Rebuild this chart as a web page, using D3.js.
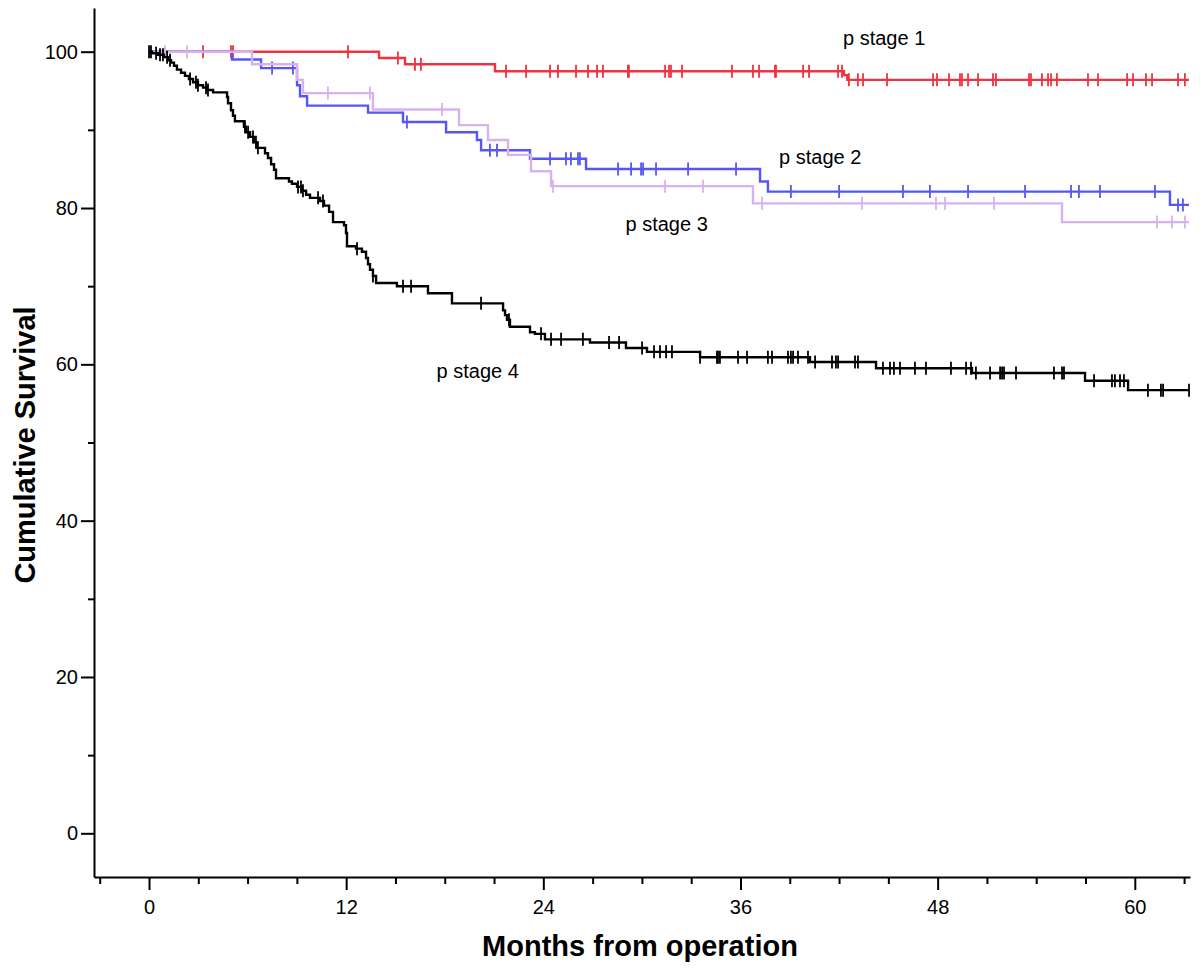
<!DOCTYPE html>
<html>
<head>
<meta charset="utf-8">
<script src="https://cdn.jsdelivr.net/npm/d3@7"></script>
<style>
  body { margin: 0; background: #fff; }
  text { font-family: "Liberation Sans", Arial, sans-serif; }
</style>
</head>
<body>
<div id="chart"></div>
<script>
// Kaplan-Meier curves, months from operation vs cumulative survival (%)
// each stage: drop times, survival after each drop, censored times

var s1Time = [0, 14.0, 15.58, 21.06, 42.3, 42.5];
var s1Surv = [100, 99.2, 98.4, 97.5, 97.0, 96.4];
var s1Cens = [3.29, 4.99, 5.11, 12.11, 15.15, 16.19, 16.55, 21.73, 22.95, 24.41, 24.89,
  25.99, 26.72, 27.27, 27.63, 29.15, 29.21, 31.41, 31.65, 31.77, 32.44, 35.48, 36.76,
  37.13, 38.10, 38.16, 39.81, 40.17, 41.94, 42.18, 42.6, 43.15, 43.46, 44.92, 47.72,
  47.96, 48.69, 49.36, 49.48, 49.85, 50.46, 51.37, 51.55, 53.56, 53.68, 54.35, 54.72,
  54.90, 55.26, 57.15, 57.76, 59.53, 59.89, 60.68, 61.05, 62.63, 63.05];

var s2Time = [0, 5.05, 6.82, 9.01, 9.19, 9.62, 13.33, 15.46, 18.08, 19.96, 20.21,
  23.19, 26.60, 37.19, 37.67, 62.14];
var s2Surv = [100, 99.0, 97.9, 95.7, 94.3, 93.1, 92.2, 91.0, 89.7, 88.7, 87.4,
  86.3, 85.0, 83.4, 82.1, 80.4];
var s2Cens = [7.49, 8.76, 15.70, 20.75, 21.18, 24.41, 25.38, 25.68, 26.11, 26.23,
  28.55, 29.34, 29.95, 30.07, 30.86, 32.81, 35.73, 39.07, 42.00, 45.89, 47.53, 49.85,
  53.32, 56.12, 56.60, 57.88, 61.23, 62.63, 62.93];

var s3Time = [0, 6.27, 9.01, 9.37, 13.63, 18.87, 20.63, 21.85, 23.25, 24.47, 36.76, 55.57];
var s3Surv = [100, 98.4, 96.4, 94.7, 92.6, 90.6, 88.7, 86.8, 84.7, 82.8, 80.6, 78.2];
var s3Cens = [0.97, 2.31, 10.89, 13.45, 17.83, 24.59, 31.41, 33.72, 37.31, 43.40,
  47.90, 48.45, 51.43, 61.35, 62.26, 63.05];

var s4Time = [0, 0.18, 0.55, 0.91, 1.16, 1.34, 1.52, 1.70, 1.95, 2.19, 2.43, 2.68,
  2.98, 3.29, 3.53, 3.90, 4.75, 4.81, 4.99, 5.11, 5.23, 5.78, 5.90, 6.15, 6.39, 6.57,
  7.06, 7.24, 7.43, 7.61, 7.73, 8.52, 8.70, 9.01, 9.31, 9.56, 9.80, 10.41, 10.65,
  10.96, 11.20, 11.87, 11.99, 12.05, 12.60, 12.96, 13.21, 13.33, 13.45, 13.63, 13.82,
  15.09, 16.98, 18.44, 21.55, 21.67, 21.79, 21.97, 23.19, 23.49, 24.10, 26.84, 29.03,
  30.31, 33.54, 40.23, 44.25, 50.09, 56.97, 59.59];
var s4Surv = [100, 99.8, 99.6, 99.3, 98.9, 98.6, 98.2, 97.7, 97.3, 96.9, 96.5, 96.1,
  95.7, 95.4, 95.1, 94.8, 94.2, 93.4, 92.5, 91.8, 91.1, 90.4, 89.7, 89.1, 88.4, 87.7,
  87.0, 86.4, 85.6, 84.9, 83.8, 83.4, 83.1, 82.7, 82.2, 81.7, 81.3, 80.9, 80.3,
  79.5, 78.2, 77.8, 76.8, 75.1, 74.8, 74.4, 73.6, 72.8, 72.1, 71.3, 70.4,
  70.0, 69.1, 67.8, 66.9, 66.3, 65.7, 64.8, 64.1, 63.9, 63.2, 62.8, 62.1,
  61.6, 60.9, 60.3, 59.5, 58.9, 57.9, 56.7];
var s4Cens = [0.0, 0.12, 0.43, 0.67, 0.85, 1.10, 1.28, 2.50, 2.86, 2.98, 3.47, 3.59,
  5.84, 6.03, 6.33, 6.51, 6.63, 9.07, 9.25, 9.37, 10.29, 10.59, 12.66, 13.63, 15.46,
  15.95, 20.21, 21.91, 23.86, 24.47, 25.08, 26.41, 28.00, 28.61, 30.01, 30.74, 31.10,
  31.47, 31.83, 33.54, 34.57, 34.63, 34.75, 35.85, 36.40, 37.67, 37.92, 38.89, 39.07,
  39.20, 39.50, 40.11, 40.54, 41.57, 41.81, 41.94, 42.97, 43.15, 44.67, 45.10, 45.34,
  45.71, 46.62, 47.29, 48.81, 49.73, 50.03, 50.33, 51.19, 51.80, 51.92, 52.04, 52.77,
  55.08, 55.57, 55.69, 57.52, 58.61, 58.79, 59.10, 59.34, 60.80, 61.59, 61.72, 63.30];

var endTime = 63.3;
var xTicks = [0, 12, 24, 36, 48, 60];
var yTicks = [0, 20, 40, 60, 80, 100];
var stageNames = ["p stage 1", "p stage 2", "p stage 3", "p stage 4"];
var labelAt = [[42.24, 100.8], [38.35, 85.6], [29.0, 77.0], [17.5, 58.3]];

var width = 1203, height = 970;

var x = d3.scaleLinear().domain([-3.348, 63.36]).range([94, 1190]);
var y = d3.scaleLinear().domain([-5.59, 105.59]).range([877, 8]);

var svg = d3.select('#chart').append('svg')
  .attr('width', width)
  .attr('height', height)
  .style('background', '#fff');

// axes
var minorX = d3.range(-3, 64, 3).filter(function(d) { return d % 12 != 0; });
var minorY = [10, 30, 50, 70, 90];

svg.append('g')
  .attr('class', 'minor')
  .attr('transform', 'translate(0,877)')
  .call(d3.axisBottom(x).tickValues(minorX).tickSize(7).tickFormat(''))
  .call(function(g) { g.select('.domain').remove(); });

svg.append('g')
  .attr('class', 'minor')
  .attr('transform', 'translate(94,0)')
  .call(d3.axisLeft(y).tickValues(minorY).tickSize(6).tickFormat(''))
  .call(function(g) { g.select('.domain').remove(); });

var gx = svg.append('g')
  .attr('transform', 'translate(0,877)')
  .call(d3.axisBottom(x).tickValues(xTicks).tickSize(13).tickSizeOuter(0).tickPadding(10));

var gy = svg.append('g')
  .attr('transform', 'translate(94,0)')
  .call(d3.axisLeft(y).tickValues(yTicks).tickSize(13).tickSizeOuter(0).tickPadding(3));

svg.selectAll('.domain').attr('stroke', '#000').attr('stroke-width', 2);
svg.selectAll('.tick line').attr('stroke', '#000').attr('stroke-width', 2);
svg.selectAll('.tick text')
  .attr('fill', '#000')
  .style('font-size', '20px')
  .style('font-family', '"Liberation Sans", Arial, sans-serif');

// axis titles
svg.append('text')
  .attr('x', 640)
  .attr('y', 956)
  .attr('text-anchor', 'middle')
  .style('font-size', '29px')
  .style('font-weight', 'bold')
  .text('Months from operation');

svg.append('text')
  .attr('transform', 'translate(35,445) rotate(-90)')
  .attr('text-anchor', 'middle')
  .style('font-size', '29px')
  .style('font-weight', 'bold')
  .text('Cumulative Survival');

// curves
var stages = [
  {time: s1Time, surv: s1Surv, cens: s1Cens, color: '#ee3440'},
  {time: s2Time, surv: s2Surv, cens: s2Cens, color: '#5656f6'},
  {time: s3Time, surv: s3Surv, cens: s3Cens, color: '#d8b2ee'},
  {time: s4Time, surv: s4Surv, cens: s4Cens, color: '#000000'}
];

var line = d3.line()
  .x(function(d) { return x(d[0]); })
  .y(function(d) { return y(d[1]); })
  .curve(d3.curveStepAfter);

var bis = d3.bisector(function(d) { return d; }).right;

stages.forEach(function(s) {
  var pts = s.time.map(function(t, i) { return [t, s.surv[i]]; });
  pts.push([endTime, s.surv[s.surv.length - 1]]);

  svg.append('path')
    .datum(pts)
    .attr('d', line)
    .attr('fill', 'none')
    .attr('stroke', s.color)
    .attr('stroke-width', 2.4);

  svg.selectAll(null)
    .data(s.cens)
    .enter()
    .append('line')
    .attr('x1', function(d) { return x(d); })
    .attr('x2', function(d) { return x(d); })
    .attr('y1', function(d) { return y(s.surv[bis(s.time, d) - 1]) - 6.5; })
    .attr('y2', function(d) { return y(s.surv[bis(s.time, d) - 1]) + 6.5; })
    .attr('stroke', s.color)
    .attr('stroke-width', 1.8);
});

// stage labels
svg.selectAll('.lbl')
  .data(stageNames)
  .enter()
  .append('text')
  .attr('class', 'lbl')
  .attr('x', function(d, i) { return x(labelAt[i][0]); })
  .attr('y', function(d, i) { return y(labelAt[i][1]); })
  .style('font-size', '20px')
  .text(function(d) { return d; });
</script>
</body>
</html>
